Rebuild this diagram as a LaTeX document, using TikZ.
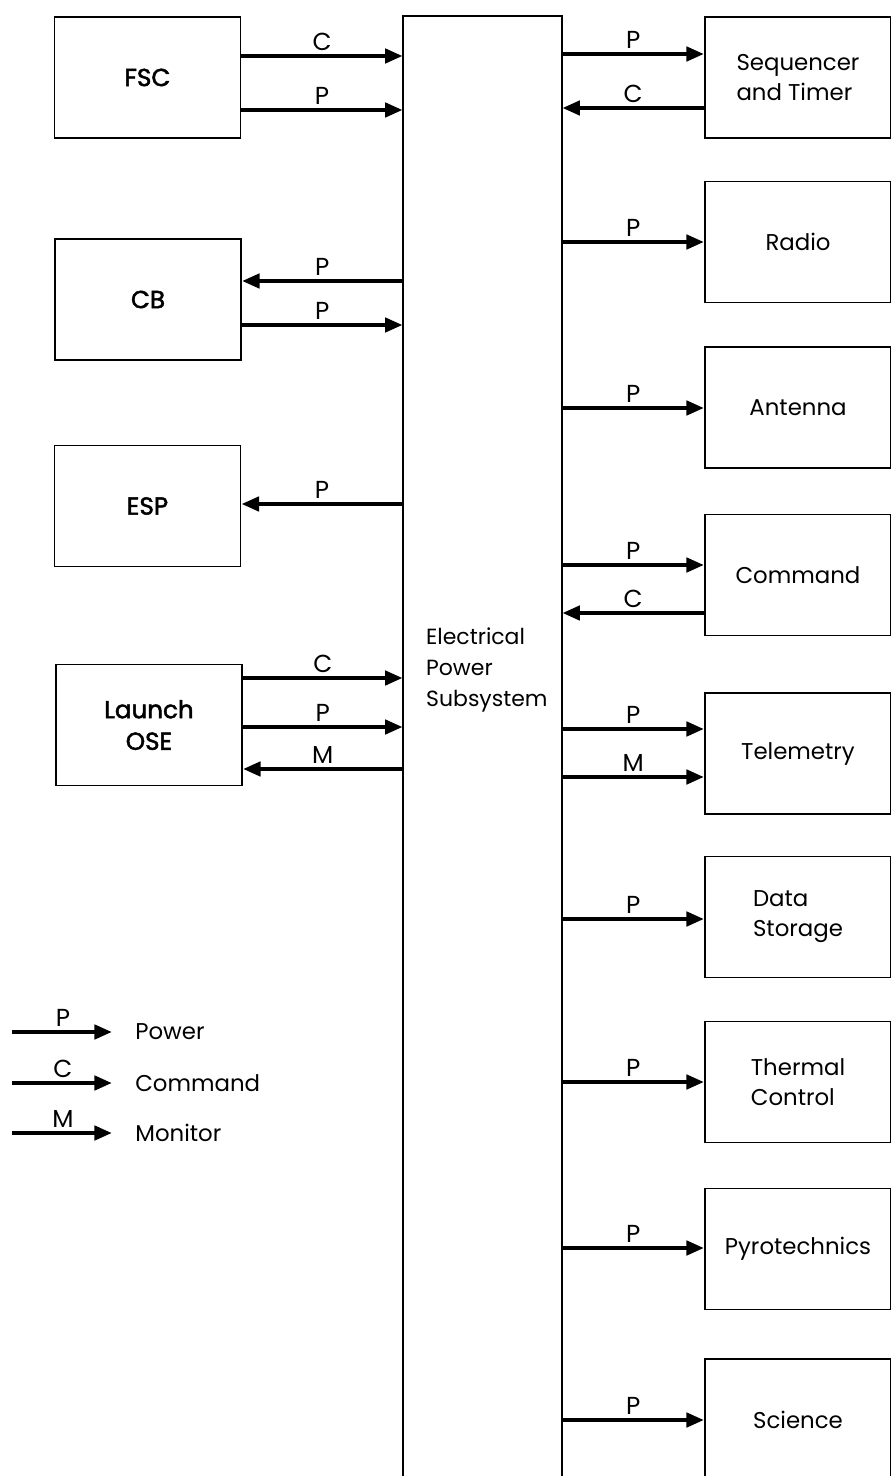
\documentclass[tikz,border=0pt]{standalone}
\usepackage{fontspec}
\setmainfont{Poppins}
\newfontfamily\heavyfont[FakeBold=2]{Poppins}
\usetikzlibrary{positioning, arrows.meta}
\tikzset{
  unit/.style   = {rectangle, draw=black, line width=1.1pt,
                   minimum width=3.72cm, minimum height=2.42cm,
                   align=center, font=\fontsize{13}{17}\selectfont},
  subunit/.style= {unit, align=left},
  ext/.style    = {unit, font=\fontsize{14}{18}\selectfont\heavyfont},
  frame/.style  = {draw=black, line width=1.1pt},
  arr/.style    = {-{Triangle[length=10pt,width=8pt]}, line width=2.4pt},
  lbl/.style    = {above=2pt, inner sep=0pt, font=\fontsize{14}{16}\selectfont},
  key/.style    = {anchor=west, inner sep=0pt, font=\fontsize{13}{15}\selectfont},
}

\begin{document}
\begin{tikzpicture}[x=0.02cm, y=-0.02cm]
  \useasboundingbox (0,0) rectangle (891,1476);

  % electrical power subsystem (open at the bottom)
  \node[minimum width=3.18cm, minimum height=29.2cm, inner sep=0pt] (eps) at (482.5,746) {};
  \draw[frame] (eps.south west) -- (eps.north west) -- (eps.north east) -- (eps.south east);
  \node[anchor=west, align=left, font=\fontsize{12.5}{17.5}\selectfont] (epslbl) at (420,670)
       {Electrical\\Power\\Subsystem};

  % left side
  \node[ext] (fsc) at (147.5,77.5) {FSC};
  \node[ext] (cb)  at (148,299.5)  {CB};
  \node[ext] (esp) at (147.5,506)  {ESP};
  \node[ext] (ose) at (149,725)    {Launch\\OSE};

  % right side
  \node[subunit] (seq)  at (798,77.5)  {Sequencer\\and Timer};
  \node[unit]    (rad)  at (798,242)   {Radio};
  \node[unit]    (ant)  at (798,407.5) {Antenna};
  \node[unit]    (cmd)  at (798,575)   {Command};
  \node[unit]    (tlm)  at (798,753.5) {Telemetry};
  \node[subunit] (dsu)  at (798,917)   {Data\\Storage};
  \node[subunit] (thc)  at (798,1082)  {Thermal\\Control};
  \node[unit]    (pyro) at (798,1249)  {Pyrotechnics};
  \node[unit]    (sci)  at (798,1419.5){Science};

  \draw[arr] (fsc.east |- 0,56)  -- node[lbl] {C} (eps.west |- 0,56);
  \draw[arr] (fsc.east |- 0,110) -- node[lbl] {P} (eps.west |- 0,110);
  \draw[arr] (eps.west |- 0,281) -- node[lbl] {P} (cb.east |- 0,281);
  \draw[arr] (cb.east |- 0,325)  -- node[lbl] {P} (eps.west |- 0,325);
  \draw[arr] (eps.west |- 0,504) -- node[lbl] {P} (esp.east |- 0,504);
  \draw[arr] (ose.east |- 0,678) -- node[lbl] {C} (eps.west |- 0,678);
  \draw[arr] (ose.east |- 0,727) -- node[lbl] {P} (eps.west |- 0,727);
  \draw[arr] (eps.west |- 0,769) -- node[lbl] {M} (ose.east |- 0,769);

  \draw[arr] (eps.east |- 0,54)   -- node[lbl] {P} (seq.west |- 0,54);
  \draw[arr] (seq.west |- 0,108)  -- node[lbl] {C} (eps.east |- 0,108);
  \draw[arr] (eps.east |- 0,242)  -- node[lbl] {P} (rad.west |- 0,242);
  \draw[arr] (eps.east |- 0,408)  -- node[lbl] {P} (ant.west |- 0,408);
  \draw[arr] (eps.east |- 0,565)  -- node[lbl] {P} (cmd.west |- 0,565);
  \draw[arr] (cmd.west |- 0,613)  -- node[lbl] {C} (eps.east |- 0,613);
  \draw[arr] (eps.east |- 0,729)  -- node[lbl] {P} (tlm.west |- 0,729);
  \draw[arr] (eps.east |- 0,777)  -- node[lbl] {M} (tlm.west |- 0,777);
  \draw[arr] (eps.east |- 0,919)  -- node[lbl] {P} (dsu.west |- 0,919);
  \draw[arr] (eps.east |- 0,1082) -- node[lbl] {P} (thc.west |- 0,1082);
  \draw[arr] (eps.east |- 0,1248) -- node[lbl] {P} (pyro.west |- 0,1248);
  \draw[arr] (eps.east |- 0,1420) -- node[lbl] {P} (sci.west |- 0,1420);

  % legend
  \node[key] (kpow) at (135,1032) {Power};
  \node[key] (kcmd) at (135,1083) {Command};
  \node[key] (kmon) at (135,1133) {Monitor};
  \coordinate (kpow0) at (12,1032);
  \coordinate (kcmd0) at (12,1083);
  \coordinate (kmon0) at (12,1133);
  \draw[arr, shorten >=0.46cm] (kpow0) -- node[lbl, xshift=-6pt] {P} (kpow.west);
  \draw[arr, shorten >=0.46cm] (kcmd0) -- node[lbl, xshift=-6pt] {C} (kcmd.west);
  \draw[arr, shorten >=0.46cm] (kmon0) -- node[lbl, xshift=-6pt] {M} (kmon.west);
\end{tikzpicture}
\end{document}
